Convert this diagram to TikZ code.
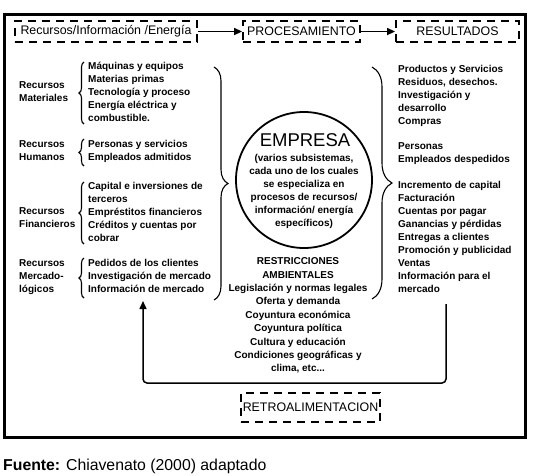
\documentclass[tikz,border=0pt]{standalone}
\usepackage{fontspec}
\setmainfont{Liberation Sans}
\usetikzlibrary{decorations.pathreplacing,arrows.meta}
\begin{document}
\begin{tikzpicture}[x=1pt,y=-1pt,
  txt/.style={font=\bfseries\fontsize{10}{13}\selectfont, align=left, inner sep=0pt, anchor=north west, execute at begin node=\strut},
  ctxt/.style={txt, align=center, anchor=north},
  dbox/.style={draw, line width=1.8pt, dash pattern=on 8pt off 6pt, inner sep=0pt, font=\fontsize{12.4}{14}\selectfont},
  mybrace/.style={decorate, decoration={brace, amplitude=#1}, line width=1.1pt},
  arr/.style={line width=1.5pt, -{Triangle[length=8pt,width=7pt]}}]
\useasboundingbox (0,0) rectangle (533,475);
\draw[line width=3pt] (4,14) rectangle (525,437);
% top boxes
\node[dbox, minimum width=182pt, minimum height=21pt] (in) at (106,31.5) {Recursos/Información /Energía};
\node[dbox, minimum width=117pt, minimum height=21pt] (proc) at (301.5,31.5) {PROCESAMIENTO};
\node[dbox, minimum width=123pt, minimum height=21pt] (res) at (457.5,31.5) {RESULTADOS};
\draw[arr] (in.east) -- (proc.west);
\draw[arr] (proc.east) -- (res.west);
% left labels
\node[txt] (lmat) at (19,81.5) {Recursos\\Materiales};
\node[txt] (lhum) at (19,140.5) {Recursos\\Humanos};
\node[txt] (lfin) at (19,207.5) {Recursos\\Financieros};
\node[txt] (lmer) at (19,259.5) {Recursos\\Mercado-\\lógicos};
% items
\node[txt] (imat) at (88,61.5) {Máquinas y equipos\\Materias primas\\Tecnología y proceso\\Energía eléctrica y\\combustible.};
\node[txt] (ihum) at (88,140.5) {Personas y servicios\\Empleados admitidos};
\node[txt] (ifin) at (88,182.5) {Capital e inversiones de\\terceros\\Empréstitos financieros\\Créditos y cuentas por\\cobrar};
\node[txt] (imer) at (88,259.5) {Pedidos de los clientes\\Investigación de mercado\\Información de mercado};
% small braces
\draw[mybrace=5] (84,124) -- (84,62);
\draw[mybrace=5] (84,166) -- (84,139);
\draw[mybrace=5] (84,244) -- (84,182);
\draw[mybrace=5] (84,298) -- (84,258);
% big braces
\draw[mybrace=14] (214,67) -- (214,300);
\draw[mybrace=20] (372,67) -- (372,299);
% circle
\node[draw, circle, line width=1.8pt, minimum size=136pt, inner sep=0pt] (emp) at (304,180) {};
\node[inner sep=0pt, anchor=base, font=\fontsize{18.5}{18}\selectfont] (empt) at (305,146) {EMPRESA};
\node[ctxt] (emps) at (304,154.5) {(varios subsistemas,\\cada uno de los cuales\\se especializa en\\procesos de recursos/\\información/ energía\\específicos)};
% right column
\node[txt] (r1) at (398,65.5) {Productos y Servicios\\Residuos, desechos.\\Investigación y\\desarrollo\\Compras};
\node[txt] (r2) at (398,142.5) {Personas\\Empleados despedidos};
\node[txt] (r3) at (398,181.5) {Incremento de capital\\Facturación\\Cuentas por pagar\\Ganancias y pérdidas\\Entregas a clientes\\Promoción y publicidad\\Ventas\\Información para el\\mercado};
% restrictions
\node[ctxt, font=\bfseries\fontsize{10}{13.4}\selectfont] (restr) at (298,257.5) {RESTRICCIONES\\AMBIENTALES\\Legislación y normas legales\\Oferta y demanda\\Coyuntura económica\\Coyuntura política\\Cultura y educación\\Condiciones geográficas y\\clima, etc...};
% feedback
\coordinate (fbs) at (446,304);
\coordinate (fbe) at (143,301);
\draw[arr, rounded corners=4pt] (fbs) -- ++(0,79) -| (fbe);
\node[dbox, minimum width=139pt, minimum height=29pt] (retro) at (310.5,407.5) {RETROALIMENTACION};
% source
\node[inner sep=0pt, anchor=base west, font=\fontsize{15.8}{18}\selectfont] (src) at (3,470) {\textbf{Fuente:} Chiavenato (2000) adaptado};
\end{tikzpicture}
\end{document}
